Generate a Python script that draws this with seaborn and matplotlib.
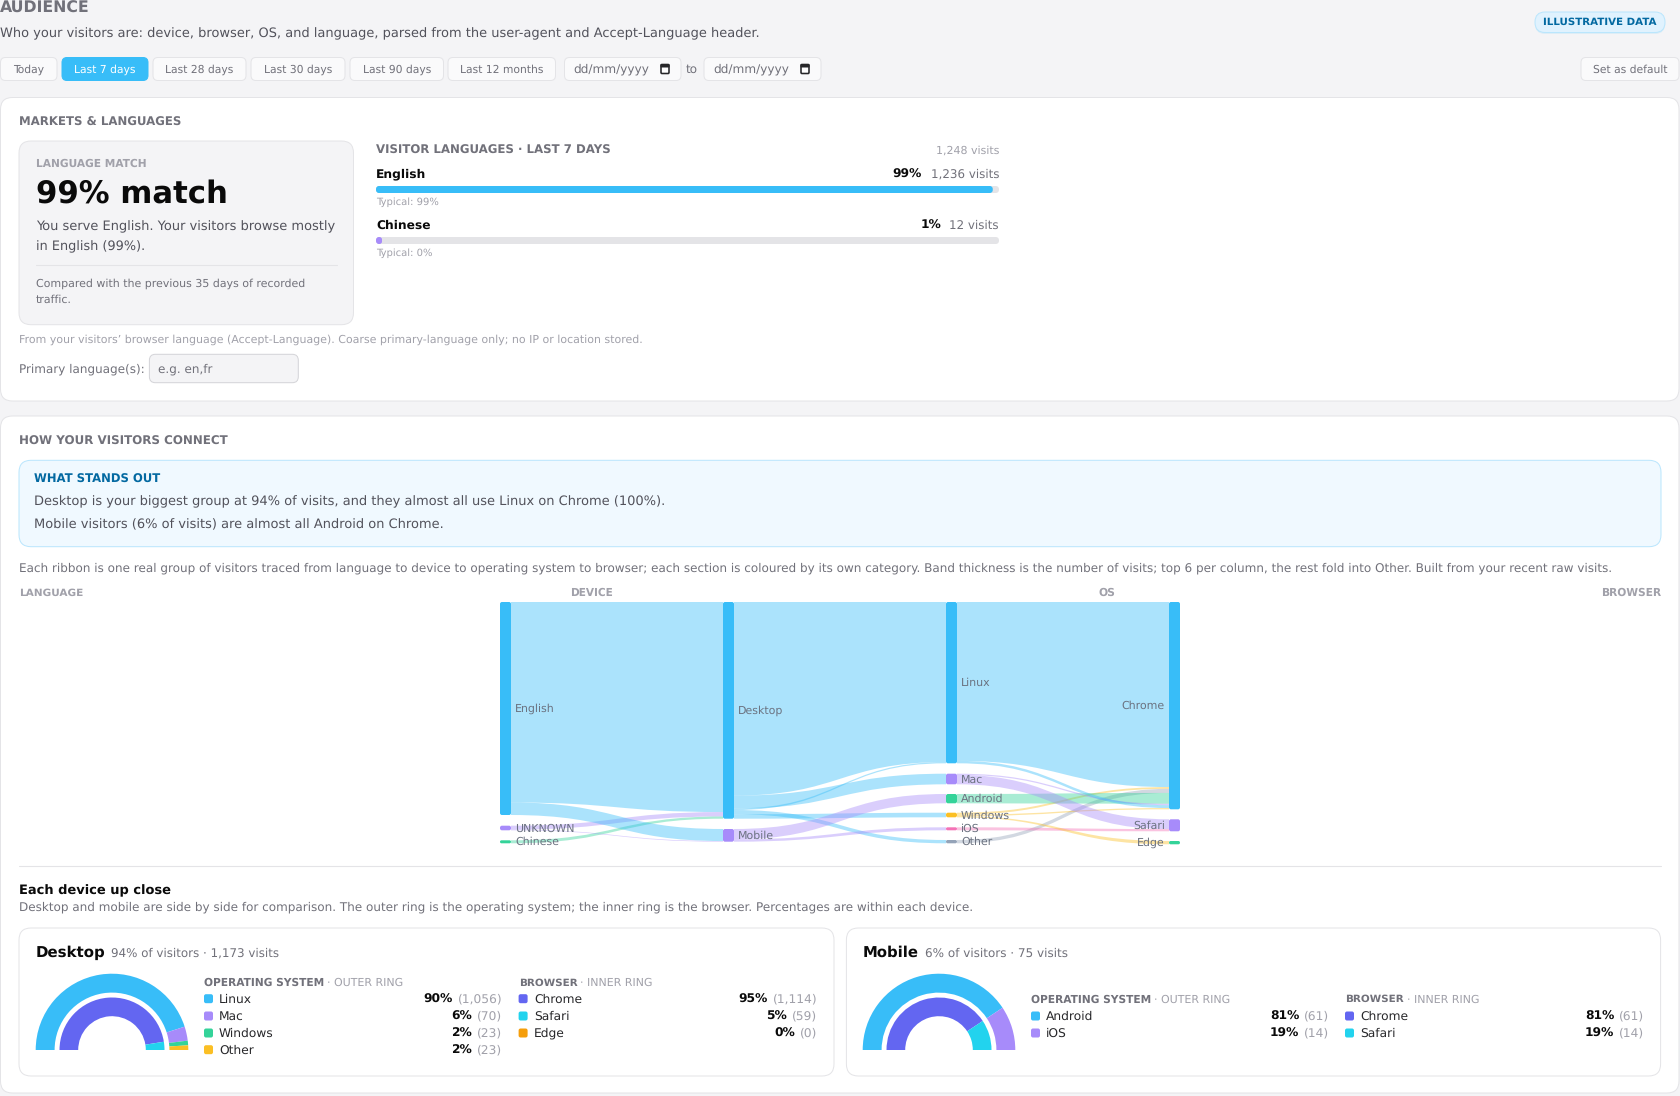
import matplotlib
matplotlib.use("Agg")
import matplotlib.pyplot as plt
import seaborn as sns
from matplotlib.patches import FancyBboxPatch, PathPatch
from matplotlib.path import Path

# --- data ---
PRESETS = ["Today", "Last 7 days", "Last 28 days", "Last 30 days", "Last 90 days", "Last 12 months"]
ACTIVE_PRESET = "Last 7 days"

LANGUAGES = ["English", "Chinese"]
LANGUAGE_SHARE = [99, 1]
LANGUAGE_VISITS = [1236, 12]
LANGUAGE_TYPICAL = [99, 0]

FLOW_SOURCE = [
    "English", "UNKNOWN", "Chinese", "English", "UNKNOWN",
    "Desktop", "Desktop", "Desktop", "Desktop", "Desktop", "Mobile", "Mobile",
    "Linux", "Windows", "Other", "Android", "Mac", "Linux", "Windows", "Mac", "iOS", "Windows",
]
FLOW_TARGET = [
    "Desktop", "Desktop", "Desktop", "Mobile", "Mobile",
    "Linux", "Mac", "Linux", "Other", "Windows", "Android", "iOS",
    "Chrome", "Chrome", "Chrome", "Chrome", "Chrome", "Chrome", "Chrome", "Safari", "Safari", "Edge",
]
FLOW_VISITS = [
    1137, 24, 12, 71, 4,
    1048, 70, 8, 23, 24, 61, 14,
    1040, 10, 23, 61, 8, 16, 7, 62, 14, 6,
]

DESKTOP_OS = ["Linux", "Mac", "Windows", "Other"]
DESKTOP_OS_VISITS = [1056, 70, 23, 23]
DESKTOP_OS_PCT = [90, 6, 2, 2]
DESKTOP_BROWSER = ["Chrome", "Safari", "Edge"]
DESKTOP_BROWSER_VISITS = [1114, 59, 0]
DESKTOP_BROWSER_PCT = [95, 5, 0]

MOBILE_OS = ["Android", "iOS"]
MOBILE_OS_VISITS = [61, 14]
MOBILE_OS_PCT = [81, 19]
MOBILE_BROWSER = ["Chrome", "Safari"]
MOBILE_BROWSER_VISITS = [61, 14]
MOBILE_BROWSER_PCT = [81, 19]

# --- layout and colours, in page pixels ---
W, H = 1680, 1096
BG = "#F4F4F6"
LINE = "#E4E4E7"
INK = "#0A0A0A"
BODY = "#52525B"
MUTED = "#71717A"
FAINT = "#A1A1AA"
BLUE = "#38BDF8"
PURPLE = "#A78BFA"
GREEN = "#34D399"
YELLOW = "#FBBF24"
PINK = "#F472B6"
GRAY = "#94A3B8"
INDIGO = "#6366F1"
CYAN = "#22D3EE"
ORANGE = "#F59E0B"

OS_COLORS = {"Linux": BLUE, "Mac": PURPLE, "Windows": GREEN, "Other": YELLOW, "Android": BLUE, "iOS": PURPLE}
BROWSER_COLORS = {"Chrome": INDIGO, "Safari": CYAN, "Edge": ORANGE}

BUTTON_X = [(0.5, 57), (62, 148), (153, 246), (251, 345), (350, 443.5), (448, 555.5)]
BAR_X0, BAR_X1 = 376, 999
BAR_Y = [(186, 193), (237, 244)]
LANGUAGE_COLORS = [BLUE, PURPLE]

NODE_BOX = {
    "English": (500, 602, 815, BLUE), "UNKNOWN": (500, 825.7, 830.3, PURPLE), "Chinese": (500, 840.3, 843.3, GREEN),
    "Desktop": (723, 602, 818.7, BLUE), "Mobile": (723, 829, 841.7, PURPLE),
    "Linux": (946, 602, 763.3, BLUE), "Mac": (946, 773.7, 784.3, PURPLE), "Android": (946, 794, 803.3, GREEN),
    "Windows": (946, 812.7, 817.3, YELLOW), "iOS": (946, 827.3, 830.3, PINK), "Other": (946, 840, 843.3, GRAY),
    "Chrome": (1169, 602, 809.3, BLUE), "Safari": (1169, 819.3, 831.3, PURPLE), "Edge": (1169, 841, 844.3, GREEN),
}
NODE_W = 11

sns.set_theme(style="white", font="DejaVu Sans")
plt.rcParams["text.hinting"] = "no_hinting"

fig = plt.figure(figsize=(W / 100, H / 100), dpi=100, facecolor=BG)
bg = fig.add_axes([0, 0, 1, 1])
bg.set_xlim(0, W)
bg.set_ylim(H, 0)
bg.set_axis_off()
renderer = fig.canvas.get_renderer()


def box(x0, y0, x1, y1, fc="white", ec=LINE, r=12, lw=1.0, zorder=1, alpha=None):
    patch = FancyBboxPatch((x0, y0), x1 - x0, y1 - y0, boxstyle=f"round,pad=0,rounding_size={r}",
                           fc=fc, ec=ec, lw=lw * 0.72, zorder=zorder, alpha=alpha)
    bg.add_patch(patch)
    return patch


def text(x, y, s, size=12, color=BODY, weight="normal", ha="left", fit=None):
    # y is the visual centre of the line; sit on a baseline so descenders don't move it
    t = bg.text(x, y, s, fontsize=size * 0.72, color=color, fontweight=weight, ha=ha, va="baseline", zorder=6)
    if fit:
        size = size * fit / t.get_window_extent(renderer).width
        t.set_fontsize(size * 0.72)
    t.set_y(y + 0.32 * size)
    return t


def right_edge(t):
    return t.get_window_extent(renderer).x1


def left_edge(t):
    return t.get_window_extent(renderer).x0


def inset(x0, y0, x1, y1):
    ax = fig.add_axes([x0 / W, 1 - y1 / H, (x1 - x0) / W, (y1 - y0) / H])
    ax.patch.set_alpha(0)
    return ax


# --- header ---
text(0, 8, "AUDIENCE", 15, MUTED, "bold", fit=90)
text(0, 32.7, "Who your visitors are: device, browser, OS, and language, parsed from the user-agent and Accept-Language header.", 13, BODY, fit=759)
box(1535, 13.5, 1665, 34, fc=BLUE, ec="none", r=10, alpha=0.12)
box(1535, 12, 1665, 32.5, fc="#E0F2FE", ec="#BAE6FD", r=10)
text(1600, 22, "ILLUSTRATIVE DATA", 9.5, "#0369A1", "bold", ha="center", fit=113)

for label, (x0, x1) in zip(PRESETS, BUTTON_X):
    on = label == ACTIVE_PRESET
    box(x0, 57.5, x1, 80.5, fc=BLUE if on else "#FAFAFB", ec=BLUE if on else LINE, r=5)
    text((x0 + x1) / 2, 69, label, 10.8, "white" if on else MUTED, ha="center")
for x0, x1 in [(564.5, 681), (704, 821)]:
    box(x0, 57.5, x1, 80.5, fc="#FAFAFB", r=5)
    text(x0 + 9, 69, "dd/mm/yyyy", 12, MUTED, fit=76)
    box(x1 - 20, 64.5, x1 - 12, 73.5, fc="white", ec="#27272A", r=1, lw=1.6, zorder=5)
    box(x1 - 20, 64.5, x1 - 12, 67, fc="#27272A", ec="#27272A", r=0.5, zorder=5)
text(692, 69, "to", 12, MUTED, ha="center")
box(1581, 57.5, 1679, 80.5, fc="#FAFAFB", r=5)
text(1630, 69, "Set as default", 10.8, MUTED, ha="center")

# --- markets & languages card ---
box(0.5, 97.5, 1679, 401)
text(19, 122, "MARKETS & LANGUAGES", 11, MUTED, "bold", fit=162)
box(19, 141, 353.5, 324.7, fc=BG)
text(36, 163, "LANGUAGE MATCH", 10.5, FAINT, "bold", fit=111)
text(36, 192.7, "99% match", 32, INK, "bold", fit=192)
text(36, 225.7, "You serve English. Your visitors browse mostly", 13, BODY, fit=299)
text(36, 245.7, "in English (99%).", 13, BODY, fit=109.5)
bg.plot([36, 337], [265, 265], color=LINE, lw=0.8, zorder=5)
text(36, 283, "Compared with the previous 35 days of recorded", 11, MUTED, fit=268)
text(36, 299, "traffic.", 11, MUTED)

text(376, 150, "VISITOR LANGUAGES · LAST 7 DAYS", 11, MUTED, "bold", fit=235)
text(BAR_X1, 150, f"{sum(LANGUAGE_VISITS):,} visits", 11, FAINT, ha="right")

for i, lang in enumerate(LANGUAGES):
    y0, y1 = BAR_Y[i]
    text(376, y0 - 12.3, lang, 12.2, INK, "bold")
    vis = text(BAR_X1, y0 - 12.3, f"{LANGUAGE_VISITS[i]:,} visits", 11.9, MUTED, ha="right")
    text(left_edge(vis) - 8.5, y0 - 12.3, f"{LANGUAGE_SHARE[i]}%", 12.2, INK, "bold", ha="right")
    text(376, y1 + 8.3, f"Typical: {LANGUAGE_TYPICAL[i]}%", 10, FAINT)

    ax = inset(BAR_X0, y0, BAR_X1, y1)
    sns.barplot(x=[100], y=[lang], color=LINE, width=1, saturation=1, ax=ax)
    sns.barplot(x=[LANGUAGE_SHARE[i]], y=[lang], color=LANGUAGE_COLORS[i], width=1, saturation=1, ax=ax)
    ax.set_xlim(0, 100)
    ax.set_ylim(0.5, -0.5)
    ax.set_axis_off()
    track, fill = ax.patches[0], ax.patches[1]
    track.set_linewidth(0)
    fill.set_linewidth(0)
    track_clip = FancyBboxPatch((BAR_X0, y0), BAR_X1 - BAR_X0, y1 - y0, boxstyle="round,pad=0,rounding_size=3.5",
                                transform=bg.transData)
    track.set_clip_path(track_clip)
    fill_clip = FancyBboxPatch((BAR_X0, y0), (BAR_X1 - BAR_X0) * LANGUAGE_SHARE[i] / 100, y1 - y0,
                               boxstyle="round,pad=0,rounding_size=3", transform=bg.transData)
    fill.set_clip_path(fill_clip)

text(19, 339.3, "From your visitors’ browser language (Accept-Language). Coarse primary-language only; no IP or location stored.", 11, FAINT, fit=622)
text(19, 368.7, "Primary language(s):", 12, MUTED, fit=126)
box(149.4, 354.3, 298.3, 382.7, fc=BG, ec="#D4D4D8", r=6)
text(158.5, 368.7, "e.g. en,fr", 12, MUTED)

# --- how your visitors connect card ---
box(0.5, 416, 1679, 1093)
text(19, 441, "HOW YOUR VISITORS CONNECT", 11, MUTED, "bold", fit=208)
box(19, 460.3, 1661, 546.7, fc="#F0F9FF", ec="#BAE6FD")
text(34, 479, "WHAT STANDS OUT", 11, "#0369A1", "bold", fit=126)
text(34, 500.7, "Desktop is your biggest group at 94% of visits, and they almost all use Linux on Chrome (100%).", 13, BODY, fit=630)
text(34, 523.7, "Mobile visitors (6% of visits) are almost all Android on Chrome.", 13, BODY, fit=410)
text(19, 567.7, "Each ribbon is one real group of visitors traced from language to device to operating system to browser; each section is coloured by its own category. Band thickness is the number of visits; top 6 per column, the rest fold into Other. Built from your recent raw visits.", 12, MUTED, fit=1592)
text(19, 592.3, "LANGUAGE", 10.5, FAINT, "bold", fit=64)
text(570, 592.3, "DEVICE", 10.5, FAINT, "bold", fit=43)
text(1098, 592.3, "OS", 10.5, FAINT, "bold", fit=17)
text(1661, 592.3, "BROWSER", 10.5, FAINT, "bold", ha="right", fit=60)

# sankey: a ribbon end is as wide as its share of the node's own box
out_total = {}
in_total = {}
for s, t, v in zip(FLOW_SOURCE, FLOW_TARGET, FLOW_VISITS):
    out_total[s] = out_total.get(s, 0) + v
    in_total[t] = in_total.get(t, 0) + v
out_used = {}
in_used = {}
for s, t, v in zip(FLOW_SOURCE, FLOW_TARGET, FLOW_VISITS):
    sx, s0, s1, color = NODE_BOX[s]
    tx, t0, t1, _ = NODE_BOX[t]
    s_scale = (s1 - s0) / out_total[s]
    t_scale = (t1 - t0) / in_total[t]
    a0 = s0 + out_used.get(s, 0) * s_scale
    a1 = a0 + v * s_scale
    b0 = t0 + in_used.get(t, 0) * t_scale
    b1 = b0 + v * t_scale
    out_used[s] = out_used.get(s, 0) + v
    in_used[t] = in_used.get(t, 0) + v
    xa, xb = sx + NODE_W, tx
    xm = (xa + xb) / 2
    verts = [(xa, a0), (xm, a0), (xm, b0), (xb, b0), (xb, b1), (xm, b1), (xm, a1), (xa, a1), (xa, a0)]
    codes = [Path.MOVETO, Path.CURVE4, Path.CURVE4, Path.CURVE4, Path.LINETO,
             Path.CURVE4, Path.CURVE4, Path.CURVE4, Path.CLOSEPOLY]
    bg.add_patch(PathPatch(Path(verts, codes), fc=color, ec="none", alpha=0.42, zorder=3))

for name, (x, y0, y1, color) in NODE_BOX.items():
    box(x, y0, x + NODE_W, y1, fc=color, ec="none", r=min(2, (y1 - y0) / 2), zorder=4)
    if x == 1169:
        text(x - 4, (y0 + y1) / 2, name, 11, "#6B7280", ha="right")
    else:
        text(x + NODE_W + 4, (y0 + y1) / 2, name, 11, "#6B7280")

bg.plot([19, 1661], [866, 866], color=LINE, lw=0.8, zorder=2)
text(19, 890, "Each device up close", 13, INK, "bold")
text(19, 906.6, "Desktop and mobile are side by side for comparison. The outer ring is the operating system; the inner ring is the browser. Percentages are within each device.", 12, MUTED, fit=953)


def legend(x, label_x, right, head_y, rows_y, head, tail, names, pcts, visits, colors):
    h = text(x, head_y, head, 10.5, MUTED, "bold", fit=120 if head.startswith("OPERATING") else 59)
    text(right_edge(h) + 3, head_y, tail, 11, FAINT)
    for y, name, pct, n in zip(rows_y, names, pcts, visits):
        box(x, y - 4.5, x + 9, y + 4.5, fc=colors[name], ec="none", r=2, zorder=5)
        text(label_x, y, name, 12.2, "#27272A")
        val = text(right, y, f"({n:,})", 12.2, FAINT, ha="right")
        text(left_edge(val) - 5, y, f"{pct}%", 12.2, INK, "bold", ha="right")


def ring(center_x, os_visits, browser_visits, os_colors, browser_colors):
    ax = inset(center_x - 76.3, 973.7, center_x + 76.3, 1126.3)
    outer_colors = os_colors + [(0, 0, 0, 0)]
    inner_colors = browser_colors + [(0, 0, 0, 0)]
    ax.pie(os_visits + [sum(os_visits)], colors=outer_colors, startangle=180, counterclock=False,
           radius=1, wedgeprops={"width": 18.9 / 76.3, "linewidth": 0})
    ax.pie(browser_visits + [sum(browser_visits)], colors=inner_colors, startangle=180, counterclock=False,
           radius=52.5 / 76.3, wedgeprops={"width": 18.7 / 76.3, "linewidth": 0})
    ax.set_xlim(-1, 1)
    ax.set_ylim(-1, 1)
    ax.set_axis_off()


# desktop card
box(19, 928, 834, 1076)
text(36, 951.7, "Desktop", 16, INK, "bold", fit=70)
text(111, 952.5, "94% of visitors · 1,173 visits", 12, MUTED, fit=169)
ring(112, DESKTOP_OS_VISITS, DESKTOP_BROWSER_VISITS,
     [OS_COLORS[n] for n in DESKTOP_OS], [BROWSER_COLORS[n] for n in DESKTOP_BROWSER])
rows = [998.7, 1016, 1033, 1049.7]
legend(204, 219, 502.5, 982.3, rows, "OPERATING SYSTEM", "· OUTER RING", DESKTOP_OS, DESKTOP_OS_PCT, DESKTOP_OS_VISITS, OS_COLORS)
legend(518.6, 534, 817.5, 982.3, rows, "BROWSER", "· INNER RING", DESKTOP_BROWSER, DESKTOP_BROWSER_PCT, DESKTOP_BROWSER_VISITS, BROWSER_COLORS)

# mobile card
box(846.4, 928, 1660.6, 1076)
text(863, 951.7, "Mobile", 16, INK, "bold", fit=56)
text(924.6, 952.5, "6% of visitors · 75 visits", 12, MUTED, fit=143)
ring(939, MOBILE_OS_VISITS, MOBILE_BROWSER_VISITS,
     [OS_COLORS[n] for n in MOBILE_OS], [BROWSER_COLORS[n] for n in MOBILE_BROWSER])
rows = [1016, 1033]
legend(1031, 1046, 1329.5, 999, rows, "OPERATING SYSTEM", "· OUTER RING", MOBILE_OS, MOBILE_OS_PCT, MOBILE_OS_VISITS, OS_COLORS)
legend(1345, 1360.5, 1644.5, 999, rows, "BROWSER", "· INNER RING", MOBILE_BROWSER, MOBILE_BROWSER_PCT, MOBILE_BROWSER_VISITS, BROWSER_COLORS)

fig.savefig("out.png", dpi=100)
plt.close(fig)
